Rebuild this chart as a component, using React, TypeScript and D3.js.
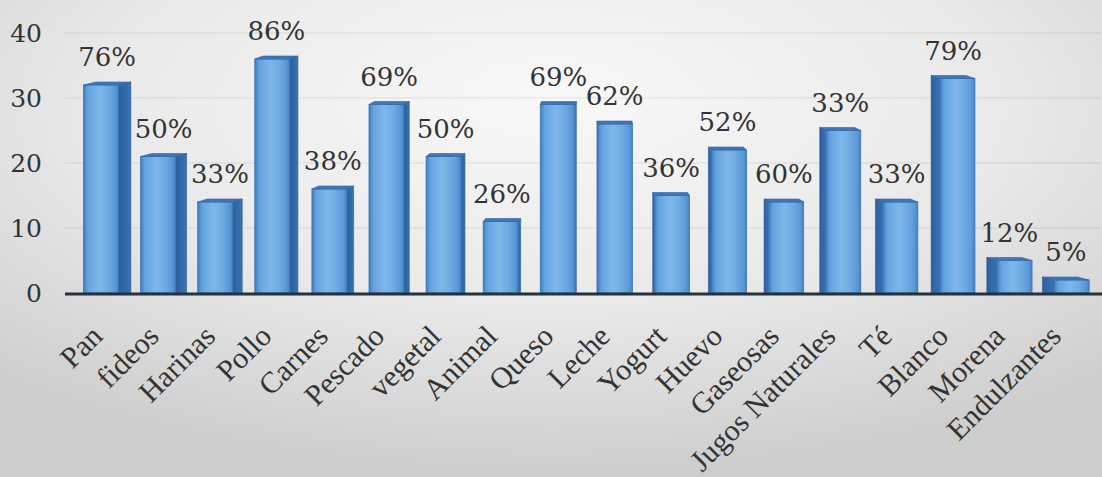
import React from "react";
import * as d3 from "d3";

const categories = ["Pan","fideos","Harinas","Pollo","Carnes","Pescado","vegetal","Animal","Queso","Leche","Yogurt","Huevo","Gaseosas","Jugos Naturales","Té","Blanco","Morena","Endulzantes"];
const values = [32,21,14,36,16,29,21,11,29,26,15,22,14,25,14,33,5,2];
const labels = ["76%","50%","33%","86%","38%","69%","50%","26%","69%","62%","36%","52%","60%","33%","33%","79%","12%","5%"];
const yTicks = [0,10,20,30,40];

const W = 1102, H = 477;
const FONT = "Liberation Serif, Times New Roman, serif";
const NUMFONT = "DejaVu Serif, Liberation Serif, serif";

export default function App() {
  const x = d3.scaleBand<string>().domain(categories).range([79, 1094]).padding(0);
  const y = d3.scaleLinear().domain([0, 40]).range([293, 33]);
  const vp = 600;
  const frontW = 35;
  const topH = 3;
  return (
    <svg width={W} height={H} style={{ position: "absolute", left: 0, top: 0 }}>
      <defs>
        <radialGradient id="bg" cx="50%" cy="25%" r="75%" fx="50%" fy="20%">
          <stop offset="0" stopColor="#f8f8f8" />
          <stop offset="0.55" stopColor="#e9e9e9" />
          <stop offset="1" stopColor="#cdcdcd" />
        </radialGradient>
        <linearGradient id="front" x1="0" x2="1" y1="0" y2="0">
          <stop offset="0" stopColor="#3d7cc2" />
          <stop offset="0.12" stopColor="#64a2df" />
          <stop offset="0.45" stopColor="#7fb7ea" />
          <stop offset="0.7" stopColor="#6faae3" />
          <stop offset="0.9" stopColor="#5b98d6" />
          <stop offset="1" stopColor="#4683c6" />
        </linearGradient>
        <linearGradient id="side" x1="0" x2="1" y1="0" y2="0">
          <stop offset="0" stopColor="#2d5f9c" />
          <stop offset="1" stopColor="#3a72b3" />
        </linearGradient>
      </defs>
      <rect x={0} y={0} width={W} height={H} fill="url(#bg)" />
      {yTicks.filter(t => t > 0).map(t => (
        <line key={t} x1={65} x2={1100} y1={y(t)} y2={y(t)} stroke="#000" strokeOpacity={0.06} strokeWidth={1.5} />
      ))}
      {yTicks.map(t => (
        <text key={t} x={42} y={y(t) + 9} textAnchor="end" fontFamily={NUMFONT} fontSize={25} fill="#333">{String(t)}</text>
      ))}
      {categories.map((c, i) => {
        const bc = (x(c) as number) + x.bandwidth() / 2;
        const d = 0.025 * (vp - bc);
        const fc = bc - d / 2;
        const fx0 = fc - frontW / 2, fx1 = fc + frontW / 2;
        const yt = y(values[i]);
        const yb = y(0);
        const edge = d > 0 ? fx1 : fx0;
        const side = `${edge},${yt} ${edge + d},${yt - topH} ${edge + d},${yb} ${edge},${yb}`;
        const top = `${fx0},${yt} ${fx1},${yt} ${fx1 + d},${yt - topH} ${fx0 + d},${yt - topH}`;
        return (
          <g key={c}>
            <polygon points={side} fill="url(#side)" stroke="#2a5a94" strokeWidth={0.6} />
            <rect x={fx0} y={yt} width={frontW} height={yb - yt} fill="url(#front)" stroke="#3b72b2" strokeWidth={0.8} />
            <polygon points={top} fill="#3d77ba" stroke="#2f64a3" strokeWidth={0.6} />
          </g>
        );
      })}
      <line x1={65} x2={1102} y1={294} y2={294} stroke="#26313d" strokeWidth={3} />
      {categories.map((c, i) => {
        const bc = (x(c) as number) + x.bandwidth() / 2;
        return (
          <text key={c} x={bc} y={y(values[i]) - 19} textAnchor="middle" fontFamily={NUMFONT} fontSize={26} fill="#333">{labels[i]}</text>
        );
      })}
      {categories.map((c) => {
        const bc = (x(c) as number) + x.bandwidth() / 2;
        const ex = bc - 3, ey = 338;
        return (
          <text key={c} x={ex} y={ey} textAnchor="end" transform={`rotate(-45 ${ex} ${ey})`} fontFamily={FONT} fontSize={30} fill="#333">{c}</text>
        );
      })}
    </svg>
  );
}
